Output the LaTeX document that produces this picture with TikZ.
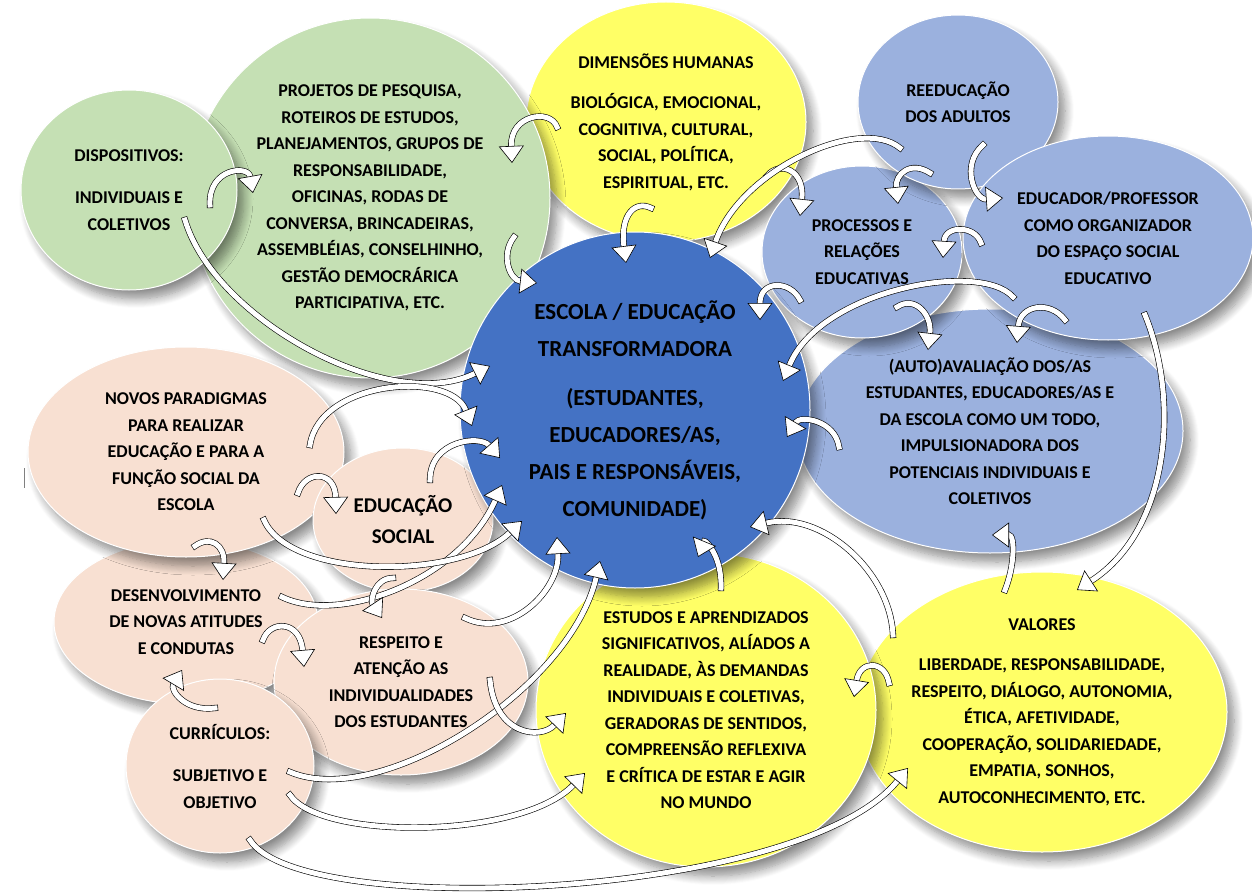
\documentclass[tikz,border=0pt]{standalone}
\usepackage{fontspec}
\setmainfont{Carlito}
\usetikzlibrary{shapes.geometric,shadows.blur,arrows.meta,calc}
\definecolor{leafgreen}{RGB}{197,224,180}
\definecolor{sunyellow}{RGB}{255,255,102}
\definecolor{deepblue}{RGB}{68,114,196}
\definecolor{slateblue}{RGB}{155,177,222}
\definecolor{peach}{RGB}{248,224,210}
\tikzset{
  bubble/.style={ellipse, inner sep=0pt, align=center, draw=white, line width=1pt,
    font=\bfseries\fontsize{18}{26.5}\selectfont,
    blur shadow={shadow xshift=7pt, shadow yshift=-9pt, shadow blur steps=10,
      shadow blur radius=9pt, shadow opacity=45}},
  flow/.style={line width=.6pt, double=white, double distance=5pt, line cap=rect,
    -{Triangle[length=17pt,width=25pt,fill=white]}},
}
\begin{document}
\begin{tikzpicture}[x=1pt,y=-1pt]%{{{
\useasboundingbox (0,0) rectangle (1252,896);
%
% Bulles du haut
\node[bubble, fill=sunyellow, minimum width=280pt, minimum height=240pt] (dimens) at (666,122)
  {DIMENSÕES HUMANAS\\[14pt]BIOLÓGICA, EMOCIONAL,\\COGNITIVA, CULTURAL,\\SOCIAL, POLÍTICA,\\ESPIRITUAL, ETC.};
\node[bubble, fill=leafgreen, minimum width=360pt, minimum height=360pt] (projetos) at (370,198)
  {PROJETOS DE PESQUISA,\\ROTEIROS DE ESTUDOS,\\PLANEJAMENTOS, GRUPOS DE\\RESPONSABILIDADE,\\OFICINAS, RODAS DE\\CONVERSA, BRINCADEIRAS,\\ASSEMBLÉIAS, CONSELHINHO,\\GESTÃO DEMOCRÁRICA\\PARTICIPATIVA, ETC.};
\node[bubble, fill=leafgreen, minimum width=216pt, minimum height=200pt] (dispo) at (129,190)
  {DISPOSITIVOS:\\[16pt]INDIVIDUAIS E\\COLETIVOS};
%
% Bulles de droite
\node[bubble, fill=slateblue, minimum width=386pt, minimum height=244pt] (auto) at (990,431)
  {(AUTO)AVALIAÇÃO DOS/AS\\ESTUDANTES, EDUCADORES/AS E\\DA ESCOLA COMO UM TODO,\\IMPULSIONADORA DOS\\POTENCIAIS INDIVIDUAIS E\\COLETIVOS};
\node[bubble, fill=slateblue, minimum width=200pt, minimum height=172pt] (proc) at (862,252)
  {PROCESSOS E\\RELAÇÕES\\EDUCATIVAS};
\node[bubble, fill=slateblue, minimum width=200pt, minimum height=174pt] (reeduc) at (958,102)
  {REEDUCAÇÃO\\DOS ADULTOS};
\node[bubble, fill=slateblue, minimum width=290pt, minimum height=204pt] (educ) at (1108,238)
  {EDUCADOR/PROFESSOR\\COMO ORGANIZADOR\\DO ESPAÇO SOCIAL\\EDUCATIVO};
%
% Bulles de gauche
\node[bubble, fill=peach, minimum width=264pt, minimum height=164pt] (desenv) at (186,622)
  {DESENVOLVIMENTO\\DE NOVAS ATITUDES\\E CONDUTAS};
\node[bubble, fill=peach, minimum width=316pt, minimum height=210pt] (novos) at (186,452)
  {NOVOS PARADIGMAS\\PARA REALIZAR\\EDUCAÇÃO E PARA A\\FUNÇÃO SOCIAL DA\\ESCOLA};
\node[bubble, fill=peach, minimum width=180pt, minimum height=144pt,
  font=\bfseries\fontsize{21}{31}\selectfont] (edsoc) at (403,520)
  {EDUCAÇÃO\\SOCIAL};
\node[bubble, fill=peach, minimum width=254pt, minimum height=186pt] (resp) at (401,682)
  {RESPEITO E\\ATENÇÃO AS\\INDIVIDUALIDADES\\DOS ESTUDANTES};
\node[bubble, fill=peach, minimum width=188pt, minimum height=174pt] (curric) at (220,766)
  {CURRÍCULOS:\\[16pt]SUBJETIVO E\\OBJETIVO};
%
% Bulles du bas
\node[bubble, fill=sunyellow, minimum width=370pt, minimum height=280pt] (valores) at (1042,712)
  {VALORES\\[14pt]LIBERDADE, RESPONSABILIDADE,\\RESPEITO, DIÁLOGO, AUTONOMIA,\\ÉTICA, AFETIVIDADE,\\COOPERAÇÃO, SOLIDARIEDADE,\\EMPATIA, SONHOS,\\AUTOCONHECIMENTO, ETC.};
\node[bubble, fill=sunyellow, minimum width=340pt, minimum height=314pt] (estudos) at (706,710)
  {ESTUDOS E APRENDIZADOS\\SIGNIFICATIVOS, ALÍADOS A\\REALIDADE, ÀS DEMANDAS\\INDIVIDUAIS E COLETIVAS,\\GERADORAS DE SENTIDOS,\\COMPREENSÃO REFLEXIVA\\E CRÍTICA DE ESTAR E AGIR\\NO MUNDO};
%
% Bulle centrale
\node[bubble, fill=deepblue, minimum width=350pt, minimum height=356pt,
  font=\bfseries\fontsize{23}{37}\selectfont] (escola) at (635,410)
  {ESCOLA / EDUCAÇÃO\\TRANSFORMADORA\\[12pt](ESTUDANTES,\\EDUCADORES/AS,\\PAIS E RESPONSÁVEIS,\\COMUNIDADE)};
%
\draw[gray, line width=1pt] (24,468) -- (24,488);
%
% Fleches du haut
\draw[flow] ($(dispo)+(81,15)$) .. controls (208,168) and (248,165) .. ($(projetos)+(-117,-5)$);
\draw[flow] ($(dispo)+(56,30)$) .. controls (215,320) and (390,415) .. ($(escola)+(-145,-44)$);
\draw[flow] ($(dimens)+(-109,5)$) .. controls (550,108) and (510,115) .. ($(projetos)+(142,-35)$);
\draw[flow] ($(projetos)+(144,39)$) .. controls (500,255) and (510,280) .. ($(escola)+(-98,-127)$);
\draw[flow] ($(dimens)+(-15,86)$) .. controls (635,200) and (620,215) .. ($(escola)+(-9,-147)$);
\draw[flow] ($(dimens)+(101,54)$) .. controls (780,160) and (805,170) .. ($(proc)+(-62,-36)$);
%
% Fleches de droite
\draw[flow] ($(reeduc)+(-58,46)$) .. controls (860,115) and (740,170) .. ($(escola)+(75,-152)$);
\draw[flow] ($(reeduc)+(-28,71)$) .. controls (910,160) and (895,175) .. ($(proc)+(36,-48)$);
\draw[flow] ($(reeduc)+(25,43)$) .. controls (960,165) and (975,200) .. ($(educ)+(-105,-40)$);
\draw[flow] ($(educ)+(-127,5)$) .. controls (975,225) and (945,225) .. ($(proc)+(81,6)$);
\draw[flow] ($(educ)+(-95,59)$) .. controls (980,260) and (820,290) .. ($(escola)+(148,-29)$);
\draw[flow] ($(proc)+(-62,48)$) .. controls (790,280) and (760,280) .. ($(escola)+(125,-90)$);
\draw[flow] ($(proc)+(35,55)$) .. controls (915,295) and (932,315) .. ($(auto)+(-62,-81)$);
\draw[flow] ($(educ)+(-43,82)$) .. controls (1050,300) and (1020,305) .. ($(auto)+(27,-88)$);
\draw[flow] ($(educ)+(37,77)$) .. controls (1180,400) and (1170,530) .. ($(valores)+(35,-122)$);
\draw[flow] ($(auto)+(-151,16)$) .. controls (835,420) and (800,415) .. ($(escola)+(152,27)$);
%
% Fleches du bas
\draw[flow] ($(valores)+(-37,-122)$) .. controls (1015,565) and (1015,535) .. ($(auto)+(2,104)$);
\draw[flow] ($(valores)+(-149,-77)$) .. controls (890,570) and (820,510) .. ($(escola)+(115,117)$);
\draw[flow] ($(estudos)+(15,-122)$) .. controls (722,555) and (705,540) .. ($(escola)+(63,147)$);
\draw[flow] ($(valores)+(-153,-29)$) .. controls (885,660) and (860,660) .. ($(estudos)+(148,-13)$);
\draw[flow] ($(curric)+(30,74)$) .. controls (300,920) and (800,900) .. ($(valores)+(-134,56)$);
\draw[flow] ($(curric)+(70,29)$) .. controls (320,840) and (520,840) .. ($(estudos)+(-121,63)$);
\draw[flow] ($(curric)+(70,6)$) .. controls (380,810) and (570,690) .. ($(escola)+(-35,151)$);
%
% Fleches de gauche
\draw[flow] ($(resp)+(64,-64)$) .. controls (510,640) and (560,590) .. ($(escola)+(-78,127)$);
\draw[flow] ($(desenv)+(96,-25)$) .. controls (340,625) and (460,580) .. ($(escola)+(-133,75)$);
\draw[flow] ($(novos)+(78,68)$) .. controls (290,580) and (460,580) .. ($(escola)+(-113,111)$);
\draw[flow] ($(novos)+(124,-7)$) .. controls (320,380) and (450,370) .. ($(escola)+(-163,16)$);
\draw[flow] ($(edsoc)+(27,-40)$) .. controls (430,440) and (480,435) .. ($(escola)+(-135,48)$);
\draw[flow] ($(novos)+(112,41)$) .. controls (305,470) and (335,470) .. ($(edsoc)+(-67,-6)$);
\draw[flow] ($(novos)+(9,94)$) .. controls (210,535) and (225,545) .. ($(desenv)+(37,-42)$);
\draw[flow] ($(edsoc)+(-10,58)$) .. controls (375,578) and (370,600) .. ($(resp)+(-19,-64)$);
\draw[flow] ($(desenv)+(77,18)$) .. controls (270,620) and (300,620) .. ($(resp)+(-97,-15)$);
\draw[flow] ($(curric)+(-5,-58)$) .. controls (185,712) and (170,690) .. ($(desenv)+(-4,48)$);
\draw[flow] ($(resp)+(89,-2)$) .. controls (495,735) and (540,740) .. ($(estudos)+(-140,3)$);
%
\end{tikzpicture}
\end{document}
